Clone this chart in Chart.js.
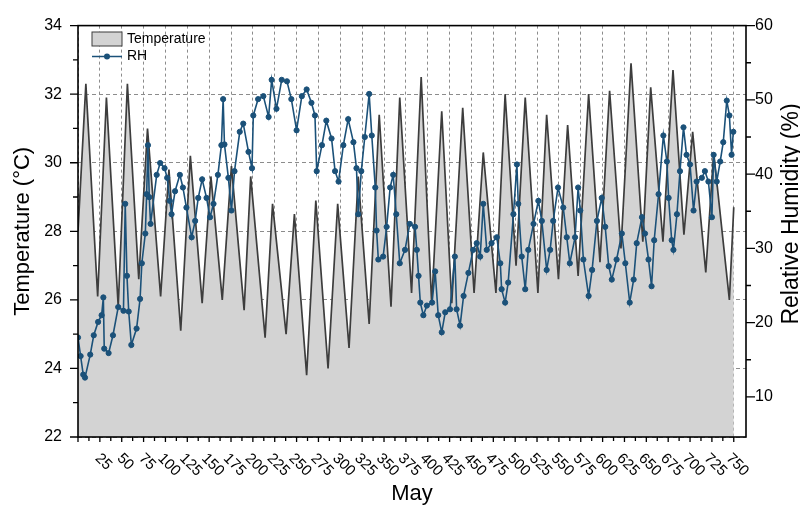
<!DOCTYPE html>
<html>
<head>
<meta charset="utf-8">
<script src="https://cdn.jsdelivr.net/npm/chart.js@4.4.0/dist/chart.umd.min.js"></script>
<style>
  html, body { margin: 0; padding: 0; background: #fff; }
</style>
</head>
<body>
<canvas id="myChart" width="800" height="506"></canvas>
<script>
// temperature, turning points of each daily cycle (hour of May, °C)
const tempHours = [0, 9, 22.5, 32.5, 46, 56.5, 69.5, 79.5, 94.5, 104,
  117.5, 128.5, 142, 152, 165, 175.5, 190, 197.5, 214, 222.5,
  238, 247.5, 261.5, 272, 286, 297, 310, 320.5, 333, 344.5,
  358, 368, 381.5, 392.5, 404.5, 416, 427.5, 440, 453, 463.5,
  478, 488.5, 501, 511.5, 526, 536, 549.5, 560, 572, 584,
  597, 608, 621, 632.5, 646, 655, 669, 680.5, 693, 703,
  718, 727, 745, 750];
const tempValues = [28.0, 32.3, 26.1, 31.9, 25.8, 32.3, 26.6, 31.0, 26.1, 29.8,
  25.1, 30.2, 25.9, 29.6, 26.0, 29.9, 25.7, 29.6, 24.9, 28.8,
  25.0, 28.5, 23.8, 28.9, 24.0, 28.8, 24.6, 29.6, 25.3, 31.4,
  25.8, 31.9, 26.2, 32.5, 25.9, 31.5, 25.9, 31.6, 26.2, 30.3,
  26.2, 32.0, 27.0, 31.9, 26.2, 31.4, 26.6, 31.1, 26.7, 32.0,
  27.1, 32.1, 27.5, 32.9, 27.7, 32.2, 27.7, 32.7, 27.9, 30.9,
  26.8, 30.3, 26.0, 28.7];

// relative humidity readings (hour of May, %)
const rhHours = [0, 3, 6, 8, 14, 18, 23, 27, 29, 30,
  35, 40, 46, 52, 54, 56, 58, 61, 67, 71,
  73, 77, 78.5, 80, 81.5, 83, 90, 94, 99, 102,
  105, 107, 111, 116.5, 120, 124, 130, 134, 137.5, 142,
  147, 151, 155, 160, 164, 166, 167.5, 172, 175.5, 179,
  185, 189, 195, 199, 200.5, 206, 212, 218, 221.5, 227,
  233, 239, 244, 250, 256, 261.5, 267, 271, 273, 279,
  284, 290, 294, 298, 303.5, 309, 315, 318.5, 320.5, 324,
  328, 333, 336, 340, 341.5, 343.5, 349, 353, 357, 360.5,
  364, 368, 374, 379.5, 385.5, 387.5, 389.5, 391.5, 395, 399,
  405, 408.5, 412, 416, 420, 425.5, 431, 433, 437, 441,
  446.5, 452, 456, 460, 463.5, 467.5, 473, 479, 483, 484.5,
  488.5, 492, 498, 502, 503.5, 507.5, 511.5, 515, 521, 526.5,
  530.5, 536, 540, 543.5, 549, 555, 559, 562.5, 568.5, 572,
  574.5, 578, 584, 588, 593.5, 599, 603, 607, 610.5, 616,
  622, 626, 631, 635.5, 639, 645, 648.5, 652.5, 656, 659,
  664, 669.5, 673.5, 675.5, 679, 681, 685, 688.5, 692.5, 696,
  700, 704, 707.5, 713.5, 717, 721, 725, 727, 730.5, 734.5,
  738, 742, 745, 747.5, 749.5];
const rhValues = [18.0, 15.5, 13.0, 12.6, 15.7, 18.3, 20.1, 21.0, 23.4, 16.5,
  15.9, 18.3, 22.1, 21.6, 36.0, 26.3, 21.5, 17.0, 19.2, 23.2,
  28.0, 32.0, 37.3, 43.9, 36.9, 33.3, 39.9, 41.5, 40.8, 39.5,
  36.4, 34.6, 37.7, 39.9, 38.2, 35.5, 31.5, 33.7, 36.8, 39.3,
  36.8, 34.2, 36.0, 39.9, 43.9, 50.1, 44.0, 39.5, 35.1, 40.4,
  45.7, 46.8, 43.0, 40.8, 47.9, 50.1, 50.5, 47.7, 52.7, 48.8,
  52.7, 52.5, 50.1, 45.9, 50.5, 51.4, 49.6, 47.9, 40.4, 43.9,
  47.2, 44.8, 40.4, 39.0, 43.9, 47.4, 44.3, 40.8, 34.6, 40.4,
  45.0, 50.8, 45.2, 38.2, 32.4, 28.5, 28.9, 32.9, 38.2, 39.9,
  34.6, 28.0, 29.8, 33.3, 32.9, 29.8, 26.3, 22.7, 21.0, 22.3,
  22.7, 26.9, 21.0, 18.7, 21.4, 21.8, 28.9, 21.8, 19.6, 23.6,
  26.7, 29.8, 30.7, 28.9, 36.0, 29.8, 30.7, 31.5, 28.0, 24.5,
  22.7, 25.4, 34.6, 41.3, 36.0, 28.9, 24.5, 29.8, 33.3, 36.4,
  33.7, 27.1, 29.8, 33.7, 38.2, 35.5, 31.5, 28.0, 31.5, 38.2,
  35.1, 28.5, 23.6, 27.1, 33.7, 36.8, 32.9, 27.6, 25.8, 28.5,
  32.0, 28.0, 22.7, 25.8, 30.7, 34.2, 32.0, 28.5, 24.9, 31.1,
  37.3, 45.2, 41.7, 36.8, 31.1, 29.8, 34.6, 40.4, 46.3, 42.6,
  41.3, 35.1, 39.0, 39.5, 40.4, 39.0, 34.2, 42.6, 39.0, 41.7,
  44.3, 49.9, 47.9, 42.6, 45.7];

// axis ticks
const hourTicks = [0, 25, 50, 75, 100, 125, 150, 175, 200, 225, 250, 275, 300, 325, 350,
  375, 400, 425, 450, 475, 500, 525, 550, 575, 600, 625, 650, 675, 700, 725, 750];
const tempTicks = [22, 24, 26, 28, 30, 32, 34];
const rhTicks = [10, 20, 30, 40, 50, 60];

const rhColor = '#1b5179';
const tempLine = '#3d3d3d';
const tempFill = '#d3d3d3';
const gridColor = '#8c8c8c';
const fontFam = '"Liberation Sans", Arial, sans-serif';

// frame, tick marks, rotated x labels, titles and the legend
const axisDecor = {
  id: 'axisDecor',
  afterDraw(chart) {
    const { ctx, chartArea: a, scales } = chart;
    const sx = scales.x, sy = scales.y, sr = scales.yR;
    ctx.save();
    ctx.strokeStyle = '#000';
    ctx.lineWidth = 1.6;
    ctx.strokeRect(a.left, a.top, a.right - a.left, a.bottom - a.top);

    ctx.lineWidth = 1.3;
    ctx.beginPath();
    for (let v = 22; v <= 34; v++) {
      const py = sy.getPixelForValue(v);
      ctx.moveTo(a.left, py);
      ctx.lineTo(a.left - (v % 2 === 0 ? 8 : 5), py);
    }
    for (let v = 10; v <= 60; v += 5) {
      const py = sr.getPixelForValue(v);
      ctx.moveTo(a.right, py);
      ctx.lineTo(a.right + (v % 10 === 0 ? 9 : 5), py);
    }
    for (let v = 0; v <= 750; v += 12.5) {
      const px = sx.getPixelForValue(v);
      ctx.moveTo(px, a.bottom);
      ctx.lineTo(px, a.bottom + (v % 25 === 0 ? 5 : 4));
    }
    ctx.stroke();

    // x tick labels, turned 45 degrees clockwise
    ctx.fillStyle = '#000';
    ctx.font = '15px ' + fontFam;
    ctx.textAlign = 'center';
    ctx.textBaseline = 'middle';
    hourTicks.forEach(v => {
      if (v === 0) return;
      const txt = String(v);
      const w = ctx.measureText(txt).width;
      ctx.save();
      ctx.translate(sx.getPixelForValue(v) + 3.5, a.bottom + 19 + w * 0.354);
      ctx.rotate(Math.PI / 4);
      ctx.fillText(txt, 0, 0);
      ctx.restore();
    });

    // axis titles
    ctx.font = '22px ' + fontFam;
    ctx.fillText('May', (a.left + a.right) / 2, 494);
    ctx.save();
    ctx.translate(23, (a.top + a.bottom) / 2);
    ctx.rotate(-Math.PI / 2);
    ctx.fillText('Temperature (°C)', 0, 0);
    ctx.restore();
    ctx.font = '23px ' + fontFam;
    ctx.save();
    ctx.translate(792, 214);
    ctx.rotate(-Math.PI / 2);
    ctx.fillText('Relative Humidity (%)', 0, 0);
    ctx.restore();

    // legend
    ctx.fillStyle = tempFill;
    ctx.fillRect(92, 32, 30, 14);
    ctx.strokeStyle = tempLine;
    ctx.lineWidth = 1;
    ctx.strokeRect(92, 32, 30, 14);
    ctx.strokeStyle = rhColor;
    ctx.lineWidth = 1.5;
    ctx.beginPath();
    ctx.moveTo(92, 56.5);
    ctx.lineTo(122, 56.5);
    ctx.stroke();
    ctx.fillStyle = rhColor;
    ctx.beginPath();
    ctx.arc(107, 56.5, 3, 0, Math.PI * 2);
    ctx.fill();
    ctx.fillStyle = '#000';
    ctx.font = '14px ' + fontFam;
    ctx.textAlign = 'left';
    ctx.fillText('Temperature', 127, 39.5);
    ctx.fillText('RH', 127, 56.5);
    ctx.restore();
  }
};

const ctx = document.getElementById('myChart').getContext('2d');
const myChart = new Chart(ctx, {
  type: 'line',
  data: {
    datasets: [
      {
        label: 'RH',
        data: rhHours.map((h, i) => ({ x: h, y: rhValues[i] })),
        yAxisID: 'yR',
        borderColor: rhColor,
        backgroundColor: rhColor,
        borderWidth: 1.6,
        pointRadius: 2.6,
        pointBorderWidth: 1,
        tension: 0,
        order: 0
      },
      {
        label: 'Temperature',
        data: tempHours.map((h, i) => ({ x: h, y: tempValues[i] })),
        yAxisID: 'y',
        borderColor: tempLine,
        backgroundColor: tempFill,
        borderWidth: 1.7,
        pointRadius: 0,
        fill: 'start',
        tension: 0,
        order: 1
      }
    ]
  },
  options: {
    responsive: false,
    animation: false,
    layout: { padding: { top: 18.5, left: 0, right: 0, bottom: 0 } },
    plugins: { legend: { display: false }, tooltip: { enabled: false } },
    scales: {
      x: {
        type: 'linear',
        min: 0,
        max: 764,
        afterBuildTicks: s => { s.ticks = hourTicks.map(v => ({ value: v })); },
        afterFit: s => { s.height = 69; },
        ticks: { display: false },
        grid: { color: gridColor, lineWidth: 1, drawTicks: false },
        border: { display: false, dash: [3, 3] }
      },
      y: {
        position: 'left',
        min: 22,
        max: 34,
        afterBuildTicks: s => { s.ticks = tempTicks.map(v => ({ value: v })); },
        afterFit: s => { s.width = 78; },
        ticks: { color: '#000', padding: 16, font: { family: fontFam, size: 16 } },
        grid: { color: gridColor, lineWidth: 1, drawTicks: false },
        border: { display: false, dash: [4, 3] }
      },
      yR: {
        position: 'right',
        min: 4.6,
        max: 60,
        afterBuildTicks: s => { s.ticks = rhTicks.map(v => ({ value: v })); },
        afterFit: s => { s.width = 54; },
        ticks: { color: '#000', padding: 9, font: { family: fontFam, size: 16 } },
        grid: { display: false, drawTicks: false },
        border: { display: false }
      }
    }
  },
  plugins: [axisDecor]
});
</script>
</body>
</html>
